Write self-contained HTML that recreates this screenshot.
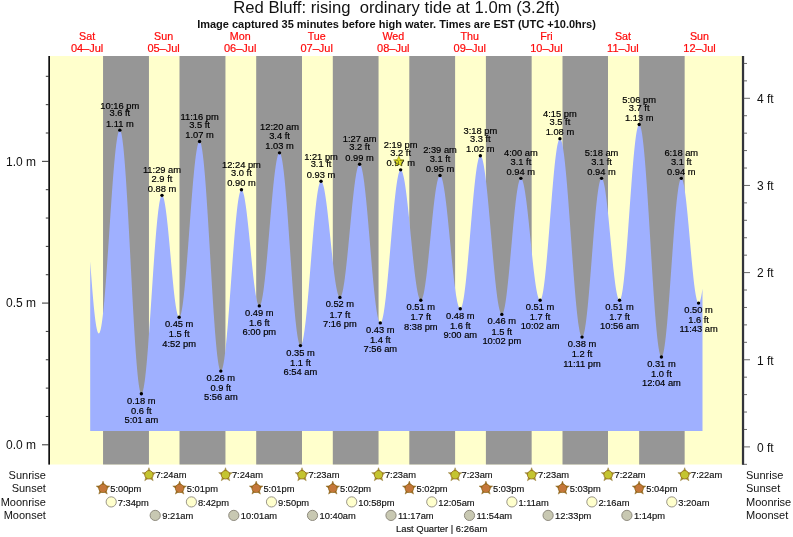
<!DOCTYPE html>
<html><head><meta charset="utf-8"><title>Red Bluff tide</title>
<style>
html,body{margin:0;padding:0;background:#fff;}
body{width:793px;height:537px;overflow:hidden;}
svg{display:block;font-family:"Liberation Sans",sans-serif;will-change:transform;}
.t{font-size:9.33px;fill:#000;text-anchor:middle;stroke:#000;stroke-width:0.18px;}
.s{font-size:9.33px;fill:#111;stroke:#111;stroke-width:0.15px;}
.d{font-size:11px;fill:#ff0a0a;text-anchor:middle;stroke:#ff0a0a;stroke-width:0.2px;}
.a{font-size:12px;fill:#111;}
.r{font-size:11px;fill:#111;}
</style></head><body>
<svg width="793" height="537" viewBox="0 0 793 537">
<rect x="0" y="0" width="793" height="537" fill="#fff"/>
<text x="396.5" y="13.2" font-size="16.67" fill="#111" text-anchor="middle" xml:space="preserve" style="white-space:pre">Red Bluff: rising  ordinary tide at 1.0m (3.2ft)</text>
<text x="396.5" y="27.8" font-size="11" font-weight="bold" fill="#111" text-anchor="middle">Image captured 35 minutes before high water. Times are EST (UTC +10.0hrs)</text>
<text class="d" x="87.1" y="39.9" style="font-size:10.7px">Sat</text>
<text class="d" x="87.1" y="51.6">04–Jul</text>
<text class="d" x="163.6" y="39.9" style="font-size:10.7px">Sun</text>
<text class="d" x="163.6" y="51.6">05–Jul</text>
<text class="d" x="240.2" y="39.9" style="font-size:10.7px">Mon</text>
<text class="d" x="240.2" y="51.6">06–Jul</text>
<text class="d" x="316.7" y="39.9" style="font-size:10.7px">Tue</text>
<text class="d" x="316.7" y="51.6">07–Jul</text>
<text class="d" x="393.3" y="39.9" style="font-size:10.7px">Wed</text>
<text class="d" x="393.3" y="51.6">08–Jul</text>
<text class="d" x="469.8" y="39.9" style="font-size:10.7px">Thu</text>
<text class="d" x="469.8" y="51.6">09–Jul</text>
<text class="d" x="546.4" y="39.9" style="font-size:10.7px">Fri</text>
<text class="d" x="546.4" y="51.6">10–Jul</text>
<text class="d" x="622.9" y="39.9" style="font-size:10.7px">Sat</text>
<text class="d" x="622.9" y="51.6">11–Jul</text>
<text class="d" x="699.5" y="39.9" style="font-size:10.7px">Sun</text>
<text class="d" x="699.5" y="51.6">12–Jul</text>
<rect x="50" y="56" width="692.5" height="408.5" fill="#ffffcc"/>
<rect x="103.05" y="56" width="45.90" height="408.5" fill="#969696"/>
<rect x="179.50" y="56" width="45.95" height="408.5" fill="#969696"/>
<rect x="256.20" y="56" width="45.80" height="408.5" fill="#969696"/>
<rect x="332.80" y="56" width="45.75" height="408.5" fill="#969696"/>
<rect x="409.30" y="56" width="45.80" height="408.5" fill="#969696"/>
<rect x="485.90" y="56" width="45.75" height="408.5" fill="#969696"/>
<rect x="562.50" y="56" width="45.50" height="408.5" fill="#969696"/>
<rect x="639.15" y="56" width="45.50" height="408.5" fill="#969696"/>
<path d="M90.20,431.00 L90.20,261.32 L90.70,268.33 L91.20,275.18 L91.70,281.82 L92.20,288.22 L92.70,294.32 L93.20,300.10 L93.70,305.52 L94.20,310.53 L94.70,315.11 L95.20,319.24 L95.70,322.87 L96.20,326.00 L96.70,328.60 L97.20,330.65 L97.70,332.14 L98.20,333.06 L98.70,333.40 L99.20,333.17 L99.70,332.38 L100.20,331.04 L100.70,329.14 L101.20,326.69 L101.70,323.73 L102.20,320.25 L102.70,316.28 L103.20,311.84 L103.70,306.96 L104.20,301.65 L104.70,295.97 L105.20,289.92 L105.70,283.55 L106.20,276.90 L106.70,269.99 L107.20,262.87 L107.70,255.58 L108.20,248.15 L108.70,240.64 L109.20,233.08 L109.70,225.51 L110.20,217.97 L110.70,210.51 L111.20,203.17 L111.70,195.99 L112.20,189.01 L112.70,182.26 L113.20,175.79 L113.70,169.63 L114.20,163.82 L114.70,158.38 L115.20,153.35 L115.70,148.76 L116.20,144.62 L116.70,140.98 L117.20,137.83 L117.70,135.21 L118.20,133.12 L118.70,131.59 L119.20,130.61 L119.70,130.19 L120.20,130.37 L120.70,131.25 L121.20,132.83 L121.70,135.09 L122.20,138.03 L122.70,141.63 L123.20,145.87 L123.70,150.72 L124.20,156.17 L124.70,162.18 L125.20,168.72 L125.70,175.76 L126.20,183.26 L126.70,191.17 L127.20,199.47 L127.70,208.09 L128.20,217.00 L128.70,226.15 L129.20,235.50 L129.70,244.98 L130.20,254.55 L130.70,264.16 L131.20,273.76 L131.70,283.30 L132.20,292.73 L132.70,301.99 L133.20,311.03 L133.70,319.82 L134.20,328.30 L134.70,336.43 L135.20,344.16 L135.70,351.45 L136.20,358.27 L136.70,364.57 L137.20,370.33 L137.70,375.51 L138.20,380.09 L138.70,384.04 L139.20,387.34 L139.70,389.97 L140.20,391.92 L140.70,393.18 L141.20,393.75 L141.70,393.64 L142.20,392.95 L142.70,391.69 L143.20,389.87 L143.70,387.50 L144.20,384.58 L144.70,381.15 L145.20,377.21 L145.70,372.80 L146.20,367.93 L146.70,362.64 L147.20,356.95 L147.70,350.90 L148.20,344.52 L148.70,337.85 L149.20,330.94 L149.70,323.81 L150.20,316.51 L150.70,309.09 L151.20,301.58 L151.70,294.03 L152.20,286.48 L152.70,278.98 L153.20,271.57 L153.70,264.30 L154.20,257.20 L154.70,250.31 L155.20,243.69 L155.70,237.36 L156.20,231.35 L156.70,225.72 L157.20,220.49 L157.70,215.68 L158.20,211.33 L158.70,207.47 L159.20,204.11 L159.70,201.27 L160.20,198.98 L160.70,197.23 L161.20,196.06 L161.70,195.45 L162.20,195.41 L162.70,195.90 L163.20,196.88 L163.70,198.37 L164.20,200.34 L164.70,202.77 L165.20,205.66 L165.70,208.96 L166.20,212.67 L166.70,216.74 L167.20,221.14 L167.70,225.83 L168.20,230.78 L168.70,235.94 L169.20,241.27 L169.70,246.73 L170.20,252.27 L170.70,257.84 L171.20,263.40 L171.70,268.90 L172.20,274.29 L172.70,279.54 L173.20,284.59 L173.70,289.40 L174.20,293.94 L174.70,298.16 L175.20,302.03 L175.70,305.52 L176.20,308.60 L176.70,311.24 L177.20,313.42 L177.70,315.12 L178.20,316.33 L178.70,317.04 L179.20,317.24 L179.70,316.93 L180.20,316.10 L180.70,314.75 L181.20,312.90 L181.70,310.56 L182.20,307.73 L182.70,304.44 L183.20,300.71 L183.70,296.55 L184.20,292.00 L184.70,287.07 L185.20,281.81 L185.70,276.23 L186.20,270.38 L186.70,264.28 L187.20,257.98 L187.70,251.51 L188.20,244.91 L188.70,238.21 L189.20,231.46 L189.70,224.71 L190.20,217.97 L190.70,211.31 L191.20,204.75 L191.70,198.34 L192.20,192.11 L192.70,186.11 L193.20,180.36 L193.70,174.90 L194.20,169.76 L194.70,164.97 L195.20,160.57 L195.70,156.57 L196.20,153.00 L196.70,149.89 L197.20,147.25 L197.70,145.09 L198.20,143.43 L198.70,142.28 L199.20,141.64 L199.70,141.53 L200.20,142.02 L200.70,143.13 L201.20,144.86 L201.70,147.19 L202.20,150.12 L202.70,153.63 L203.20,157.70 L203.70,162.31 L204.20,167.43 L204.70,173.04 L205.20,179.10 L205.70,185.58 L206.20,192.44 L206.70,199.66 L207.20,207.18 L207.70,214.97 L208.20,222.99 L208.70,231.19 L209.20,239.53 L209.70,247.95 L210.20,256.43 L210.70,264.90 L211.20,273.32 L211.70,281.66 L212.20,289.85 L212.70,297.86 L213.20,305.65 L213.70,313.16 L214.20,320.37 L214.70,327.22 L215.20,333.69 L215.70,339.74 L216.20,345.33 L216.70,350.44 L217.20,355.03 L217.70,359.08 L218.20,362.58 L218.70,365.49 L219.20,367.81 L219.70,369.52 L220.20,370.61 L220.70,371.08 L221.20,370.95 L221.70,370.30 L222.20,369.12 L222.70,367.43 L223.20,365.23 L223.70,362.54 L224.20,359.38 L224.70,355.76 L225.20,351.70 L225.70,347.23 L226.20,342.37 L226.70,337.15 L227.20,331.60 L227.70,325.75 L228.20,319.65 L228.70,313.31 L229.20,306.78 L229.70,300.10 L230.20,293.31 L230.70,286.44 L231.20,279.54 L231.70,272.64 L232.20,265.79 L232.70,259.02 L233.20,252.38 L233.70,245.89 L234.20,239.61 L234.70,233.57 L235.20,227.79 L235.70,222.32 L236.20,217.19 L236.70,212.42 L237.20,208.05 L237.70,204.10 L238.20,200.59 L238.70,197.54 L239.20,194.97 L239.70,192.90 L240.20,191.34 L240.70,190.29 L241.20,189.76 L241.70,189.75 L242.20,190.20 L242.70,191.09 L243.20,192.42 L243.70,194.18 L244.20,196.36 L244.70,198.93 L245.20,201.88 L245.70,205.18 L246.20,208.82 L246.70,212.75 L247.20,216.96 L247.70,221.40 L248.20,226.05 L248.70,230.86 L249.20,235.81 L249.70,240.85 L250.20,245.95 L250.70,251.05 L251.20,256.14 L251.70,261.16 L252.20,266.07 L252.70,270.84 L253.20,275.44 L253.70,279.82 L254.20,283.96 L254.70,287.81 L255.20,291.36 L255.70,294.57 L256.20,297.42 L256.70,299.88 L257.20,301.94 L257.70,303.59 L258.20,304.80 L258.70,305.57 L259.20,305.90 L259.70,305.77 L260.20,305.18 L260.70,304.13 L261.20,302.64 L261.70,300.69 L262.20,298.32 L262.70,295.53 L263.20,292.34 L263.70,288.77 L264.20,284.85 L264.70,280.58 L265.20,276.01 L265.70,271.15 L266.20,266.05 L266.70,260.72 L267.20,255.20 L267.70,249.52 L268.20,243.73 L268.70,237.85 L269.20,231.91 L269.70,225.96 L270.20,220.03 L270.70,214.16 L271.20,208.38 L271.70,202.73 L272.20,197.23 L272.70,191.94 L273.20,186.86 L273.70,182.05 L274.20,177.52 L274.70,173.30 L275.20,169.43 L275.70,165.91 L276.20,162.78 L276.70,160.05 L277.20,157.75 L277.70,155.87 L278.20,154.44 L278.70,153.46 L279.20,152.94 L279.70,152.88 L280.20,153.36 L280.70,154.37 L281.20,155.91 L281.70,157.98 L282.20,160.57 L282.70,163.65 L283.20,167.21 L283.70,171.23 L284.20,175.70 L284.70,180.57 L285.20,185.83 L285.70,191.45 L286.20,197.39 L286.70,203.62 L287.20,210.11 L287.70,216.82 L288.20,223.71 L288.70,230.75 L289.20,237.89 L289.70,245.09 L290.20,252.32 L290.70,259.53 L291.20,266.68 L291.70,273.73 L292.20,280.64 L292.70,287.38 L293.20,293.90 L293.70,300.18 L294.20,306.16 L294.70,311.83 L295.20,317.14 L295.70,322.07 L296.20,326.60 L296.70,330.68 L297.20,334.31 L297.70,337.46 L298.20,340.12 L298.70,342.26 L299.20,343.88 L299.70,344.97 L300.20,345.52 L300.70,345.54 L301.20,345.07 L301.70,344.12 L302.20,342.70 L302.70,340.82 L303.20,338.49 L303.70,335.72 L304.20,332.53 L304.70,328.94 L305.20,324.97 L305.70,320.63 L306.20,315.97 L306.70,310.99 L307.20,305.74 L307.70,300.25 L308.20,294.53 L308.70,288.64 L309.20,282.60 L309.70,276.45 L310.20,270.22 L310.70,263.95 L311.20,257.68 L311.70,251.44 L312.20,245.27 L312.70,239.21 L313.20,233.29 L313.70,227.54 L314.20,222.00 L314.70,216.71 L315.20,211.68 L315.70,206.96 L316.20,202.56 L316.70,198.52 L317.20,194.86 L317.70,191.60 L318.20,188.75 L318.70,186.34 L319.20,184.38 L319.70,182.88 L320.20,181.85 L320.70,181.30 L321.20,181.21 L321.70,181.55 L322.20,182.29 L322.70,183.42 L323.20,184.94 L323.70,186.83 L324.20,189.09 L324.70,191.70 L325.20,194.63 L325.70,197.88 L326.20,201.41 L326.70,205.20 L327.20,209.23 L327.70,213.47 L328.20,217.89 L328.70,222.45 L329.20,227.14 L329.70,231.90 L330.20,236.72 L330.70,241.55 L331.20,246.37 L331.70,251.14 L332.20,255.83 L332.70,260.41 L333.20,264.83 L333.70,269.09 L334.20,273.13 L334.70,276.94 L335.20,280.49 L335.70,283.76 L336.20,286.71 L336.70,289.34 L337.20,291.62 L337.70,293.54 L338.20,295.09 L338.70,296.25 L339.20,297.01 L339.70,297.37 L340.20,297.33 L340.70,296.87 L341.20,295.99 L341.70,294.69 L342.20,293.00 L342.70,290.90 L343.20,288.43 L343.70,285.59 L344.20,282.40 L344.70,278.88 L345.20,275.07 L345.70,270.97 L346.20,266.61 L346.70,262.03 L347.20,257.25 L347.70,252.30 L348.20,247.22 L348.70,242.03 L349.20,236.77 L349.70,231.47 L350.20,226.17 L350.70,220.90 L351.20,215.69 L351.70,210.57 L352.20,205.59 L352.70,200.76 L353.20,196.13 L353.70,191.71 L354.20,187.55 L354.70,183.65 L355.20,180.06 L355.70,176.78 L356.20,173.85 L356.70,171.28 L357.20,169.09 L357.70,167.29 L358.20,165.89 L358.70,164.91 L359.20,164.34 L359.70,164.19 L360.20,164.49 L360.70,165.24 L361.20,166.45 L361.70,168.10 L362.20,170.18 L362.70,172.69 L363.20,175.61 L363.70,178.91 L364.20,182.60 L364.70,186.63 L365.20,190.99 L365.70,195.65 L366.20,200.60 L366.70,205.78 L367.20,211.19 L367.70,216.78 L368.20,222.53 L368.70,228.40 L369.20,234.35 L369.70,240.36 L370.20,246.39 L370.70,252.40 L371.20,258.36 L371.70,264.23 L372.20,269.99 L372.70,275.59 L373.20,281.01 L373.70,286.21 L374.20,291.17 L374.70,295.85 L375.20,300.23 L375.70,304.28 L376.20,307.98 L376.70,311.31 L377.20,314.25 L377.70,316.79 L378.20,318.90 L378.70,320.57 L379.20,321.80 L379.70,322.58 L380.20,322.91 L380.70,322.77 L381.20,322.19 L381.70,321.15 L382.20,319.66 L382.70,317.75 L383.20,315.40 L383.70,312.65 L384.20,309.50 L384.70,305.98 L385.20,302.10 L385.70,297.89 L386.20,293.37 L386.70,288.57 L387.20,283.53 L387.70,278.26 L388.20,272.80 L388.70,267.19 L389.20,261.45 L389.70,255.62 L390.20,249.74 L390.70,243.84 L391.20,237.95 L391.70,232.11 L392.20,226.36 L392.70,220.72 L393.20,215.24 L393.70,209.95 L394.20,204.87 L394.70,200.04 L395.20,195.48 L395.70,191.23 L396.20,187.30 L396.70,183.73 L397.20,180.53 L397.70,177.72 L398.20,175.32 L398.70,173.34 L399.20,171.80 L399.70,170.70 L400.20,170.05 L400.70,169.85 L401.20,170.08 L401.70,170.70 L402.20,171.71 L402.70,173.11 L403.20,174.88 L403.70,177.02 L404.20,179.51 L404.70,182.34 L405.20,185.49 L405.70,188.94 L406.20,192.67 L406.70,196.66 L407.20,200.88 L407.70,205.31 L408.20,209.92 L408.70,214.68 L409.20,219.56 L409.70,224.54 L410.20,229.58 L410.70,234.66 L411.20,239.74 L411.70,244.79 L412.20,249.78 L412.70,254.68 L413.20,259.46 L413.70,264.10 L414.20,268.56 L414.70,272.81 L415.20,276.83 L415.70,280.60 L416.20,284.10 L416.70,287.29 L417.20,290.17 L417.70,292.72 L418.20,294.91 L418.70,296.74 L419.20,298.19 L419.70,299.26 L420.20,299.94 L420.70,300.23 L421.20,300.11 L421.70,299.58 L422.20,298.64 L422.70,297.28 L423.20,295.53 L423.70,293.40 L424.20,290.89 L424.70,288.03 L425.20,284.83 L425.70,281.32 L426.20,277.51 L426.70,273.44 L427.20,269.14 L427.70,264.62 L428.20,259.93 L428.70,255.08 L429.20,250.12 L429.70,245.08 L430.20,239.99 L430.70,234.89 L431.20,229.81 L431.70,224.78 L432.20,219.84 L432.70,215.02 L433.20,210.35 L433.70,205.87 L434.20,201.60 L434.70,197.58 L435.20,193.82 L435.70,190.36 L436.20,187.22 L436.70,184.42 L437.20,181.97 L437.70,179.90 L438.20,178.22 L438.70,176.93 L439.20,176.06 L439.70,175.60 L440.20,175.55 L440.70,175.91 L441.20,176.67 L441.70,177.82 L442.20,179.36 L442.70,181.27 L443.20,183.55 L443.70,186.18 L444.20,189.15 L444.70,192.44 L445.20,196.02 L445.70,199.89 L446.20,204.00 L446.70,208.35 L447.20,212.90 L447.70,217.62 L448.20,222.50 L448.70,227.49 L449.20,232.56 L449.70,237.70 L450.20,242.86 L450.70,248.02 L451.20,253.14 L451.70,258.20 L452.20,263.16 L452.70,268.00 L453.20,272.67 L453.70,277.17 L454.20,281.45 L454.70,285.50 L455.20,289.29 L455.70,292.79 L456.20,295.99 L456.70,298.86 L457.20,301.40 L457.70,303.58 L458.20,305.38 L458.70,306.81 L459.20,307.85 L459.70,308.50 L460.20,308.74 L460.70,308.56 L461.20,307.91 L461.70,306.80 L462.20,305.24 L462.70,303.23 L463.20,300.78 L463.70,297.92 L464.20,294.65 L464.70,291.01 L465.20,287.00 L465.70,282.66 L466.20,278.01 L466.70,273.08 L467.20,267.91 L467.70,262.51 L468.20,256.93 L468.70,251.20 L469.20,245.35 L469.70,239.42 L470.20,233.45 L470.70,227.47 L471.20,221.52 L471.70,215.63 L472.20,209.85 L472.70,204.20 L473.20,198.73 L473.70,193.46 L474.20,188.42 L474.70,183.65 L475.20,179.18 L475.70,175.03 L476.20,171.24 L476.70,167.81 L477.20,164.78 L477.70,162.16 L478.20,159.97 L478.70,158.22 L479.20,156.92 L479.70,156.08 L480.20,155.70 L480.70,155.78 L481.20,156.29 L481.70,157.22 L482.20,158.57 L482.70,160.32 L483.20,162.48 L483.70,165.02 L484.20,167.93 L484.70,171.21 L485.20,174.83 L485.70,178.76 L486.20,183.00 L486.70,187.52 L487.20,192.29 L487.70,197.29 L488.20,202.50 L488.70,207.87 L489.20,213.40 L489.70,219.03 L490.20,224.76 L490.70,230.53 L491.20,236.34 L491.70,242.13 L492.20,247.89 L492.70,253.58 L493.20,259.17 L493.70,264.63 L494.20,269.93 L494.70,275.05 L495.20,279.95 L495.70,284.61 L496.20,289.01 L496.70,293.12 L497.20,296.92 L497.70,300.38 L498.20,303.50 L498.70,306.25 L499.20,308.62 L499.70,310.60 L500.20,312.18 L500.70,313.34 L501.20,314.08 L501.70,314.40 L502.20,314.28 L502.70,313.71 L503.20,312.67 L503.70,311.19 L504.20,309.26 L504.70,306.91 L505.20,304.14 L505.70,300.98 L506.20,297.45 L506.70,293.57 L507.20,289.36 L507.70,284.87 L508.20,280.12 L508.70,275.13 L509.20,269.95 L509.70,264.61 L510.20,259.14 L510.70,253.59 L511.20,247.99 L511.70,242.38 L512.20,236.79 L512.70,231.27 L513.20,225.85 L513.70,220.58 L514.20,215.48 L514.70,210.58 L515.20,205.94 L515.70,201.57 L516.20,197.50 L516.70,193.76 L517.20,190.39 L517.70,187.40 L518.20,184.80 L518.70,182.63 L519.20,180.89 L519.70,179.60 L520.20,178.76 L520.70,178.38 L521.20,178.45 L521.70,178.93 L522.20,179.81 L522.70,181.09 L523.20,182.76 L523.70,184.80 L524.20,187.20 L524.70,189.95 L525.20,193.03 L525.70,196.42 L526.20,200.10 L526.70,204.03 L527.20,208.20 L527.70,212.58 L528.20,217.13 L528.70,221.84 L529.20,226.65 L529.70,231.56 L530.20,236.51 L530.70,241.48 L531.20,246.44 L531.70,251.35 L532.20,256.18 L532.70,260.90 L533.20,265.48 L533.70,269.88 L534.20,274.07 L534.70,278.04 L535.20,281.74 L535.70,285.17 L536.20,288.29 L536.70,291.08 L537.20,293.53 L537.70,295.61 L538.20,297.33 L538.70,298.65 L539.20,299.58 L539.70,300.11 L540.20,300.23 L540.70,299.88 L541.20,299.02 L541.70,297.67 L542.20,295.82 L542.70,293.49 L543.20,290.70 L543.70,287.47 L544.20,283.80 L544.70,279.74 L545.20,275.29 L545.70,270.50 L546.20,265.38 L546.70,259.98 L547.20,254.32 L547.70,248.44 L548.20,242.39 L548.70,236.18 L549.20,229.88 L549.70,223.51 L550.20,217.11 L550.70,210.73 L551.20,204.40 L551.70,198.16 L552.20,192.06 L552.70,186.14 L553.20,180.42 L553.70,174.94 L554.20,169.75 L554.70,164.86 L555.20,160.32 L555.70,156.15 L556.20,152.38 L556.70,149.03 L557.20,146.12 L557.70,143.67 L558.20,141.69 L558.70,140.20 L559.20,139.21 L559.70,138.73 L560.20,138.75 L560.70,139.27 L561.20,140.28 L561.70,141.79 L562.20,143.78 L562.70,146.25 L563.20,149.18 L563.70,152.56 L564.20,156.37 L564.70,160.59 L565.20,165.19 L565.70,170.17 L566.20,175.49 L566.70,181.12 L567.20,187.04 L567.70,193.21 L568.20,199.61 L568.70,206.20 L569.20,212.95 L569.70,219.83 L570.20,226.80 L570.70,233.82 L571.20,240.87 L571.70,247.90 L572.20,254.88 L572.70,261.77 L573.20,268.55 L573.70,275.17 L574.20,281.60 L574.70,287.81 L575.20,293.76 L575.70,299.44 L576.20,304.81 L576.70,309.84 L577.20,314.50 L577.70,318.78 L578.20,322.65 L578.70,326.10 L579.20,329.10 L579.70,331.63 L580.20,333.70 L580.70,335.28 L581.20,336.37 L581.70,336.97 L582.20,337.06 L582.70,336.65 L583.20,335.72 L583.70,334.29 L584.20,332.36 L584.70,329.95 L585.20,327.07 L585.70,323.74 L586.20,319.98 L586.70,315.82 L587.20,311.28 L587.70,306.40 L588.20,301.20 L588.70,295.72 L589.20,289.99 L589.70,284.05 L590.20,277.95 L590.70,271.71 L591.20,265.38 L591.70,259.00 L592.20,252.61 L592.70,246.26 L593.20,239.98 L593.70,233.82 L594.20,227.81 L594.70,221.99 L595.20,216.41 L595.70,211.09 L596.20,206.08 L596.70,201.40 L597.20,197.08 L597.70,193.16 L598.20,189.66 L598.70,186.60 L599.20,183.99 L599.70,181.87 L600.20,180.24 L600.70,179.11 L601.20,178.49 L601.70,178.38 L602.20,178.74 L602.70,179.57 L603.20,180.86 L603.70,182.59 L604.20,184.76 L604.70,187.34 L605.20,190.32 L605.70,193.67 L606.20,197.38 L606.70,201.40 L607.20,205.71 L607.70,210.28 L608.20,215.07 L608.70,220.04 L609.20,225.16 L609.70,230.39 L610.20,235.69 L610.70,241.02 L611.20,246.33 L611.70,251.59 L612.20,256.75 L612.70,261.78 L613.20,266.64 L613.70,271.29 L614.20,275.70 L614.70,279.83 L615.20,283.65 L615.70,287.13 L616.20,290.24 L616.70,292.97 L617.20,295.28 L617.70,297.17 L618.20,298.62 L618.70,299.61 L619.20,300.14 L619.70,300.21 L620.20,299.73 L620.70,298.69 L621.20,297.11 L621.70,294.98 L622.20,292.33 L622.70,289.17 L623.20,285.52 L623.70,281.40 L624.20,276.84 L624.70,271.87 L625.20,266.52 L625.70,260.83 L626.20,254.83 L626.70,248.56 L627.20,242.05 L627.70,235.36 L628.20,228.52 L628.70,221.58 L629.20,214.58 L629.70,207.56 L630.20,200.58 L630.70,193.67 L631.20,186.88 L631.70,180.25 L632.20,173.83 L632.70,167.65 L633.20,161.76 L633.70,156.19 L634.20,150.98 L634.70,146.16 L635.20,141.77 L635.70,137.82 L636.20,134.34 L636.70,131.37 L637.20,128.91 L637.70,126.98 L638.20,125.60 L638.70,124.77 L639.20,124.50 L639.70,124.80 L640.20,125.68 L640.70,127.13 L641.20,129.15 L641.70,131.73 L642.20,134.85 L642.70,138.51 L643.20,142.67 L643.70,147.32 L644.20,152.44 L644.70,157.99 L645.20,163.97 L645.70,170.32 L646.20,177.03 L646.70,184.05 L647.20,191.36 L647.70,198.92 L648.20,206.68 L648.70,214.61 L649.20,222.68 L649.70,230.83 L650.20,239.04 L650.70,247.25 L651.20,255.43 L651.70,263.53 L652.20,271.52 L652.70,279.36 L653.20,287.01 L653.70,294.42 L654.20,301.57 L654.70,308.41 L655.20,314.91 L655.70,321.04 L656.20,326.77 L656.70,332.08 L657.20,336.92 L657.70,341.29 L658.20,345.15 L658.70,348.49 L659.20,351.29 L659.70,353.54 L660.20,355.23 L660.70,356.34 L661.20,356.88 L661.70,356.84 L662.20,356.24 L662.70,355.09 L663.20,353.39 L663.70,351.16 L664.20,348.41 L664.70,345.15 L665.20,341.41 L665.70,337.21 L666.20,332.58 L666.70,327.54 L667.20,322.13 L667.70,316.37 L668.20,310.32 L668.70,303.99 L669.20,297.44 L669.70,290.71 L670.20,283.83 L670.70,276.85 L671.20,269.81 L671.70,262.76 L672.20,255.74 L672.70,248.79 L673.20,241.96 L673.70,235.29 L674.20,228.82 L674.70,222.60 L675.20,216.66 L675.70,211.03 L676.20,205.76 L676.70,200.87 L677.20,196.40 L677.70,192.38 L678.20,188.82 L678.70,185.76 L679.20,183.20 L679.70,181.18 L680.20,179.69 L680.70,178.75 L681.20,178.37 L681.70,178.53 L682.20,179.20 L682.70,180.38 L683.20,182.06 L683.70,184.23 L684.20,186.86 L684.70,189.94 L685.20,193.43 L685.70,197.32 L686.20,201.56 L686.70,206.13 L687.20,210.99 L687.70,216.09 L688.20,221.39 L688.70,226.85 L689.20,232.43 L689.70,238.08 L690.20,243.74 L690.70,249.39 L691.20,254.96 L691.70,260.41 L692.20,265.70 L692.70,270.79 L693.20,275.62 L693.70,280.17 L694.20,284.39 L694.70,288.25 L695.20,291.72 L695.70,294.77 L696.20,297.37 L696.70,299.50 L697.20,301.15 L697.70,302.29 L698.20,302.93 L698.70,303.06 L699.20,302.69 L699.70,301.83 L700.20,300.50 L700.70,298.70 L701.20,296.44 L701.70,293.75 L702.20,290.64 L702.50,288.59 L702.50,431.00 Z" fill="#9fb0ff"/>
<rect x="48.3" y="56" width="1.7" height="408.6" fill="#111"/>
<rect x="741.9" y="56" width="2.25" height="408.8" fill="#33343a"/>
<line x1="42" y1="444.80" x2="49" y2="444.80" stroke="#333" stroke-width="1"/>
<text class="a" x="6" y="449.1" >0.0 m</text>
<line x1="45.8" y1="416.46" x2="49" y2="416.46" stroke="#333" stroke-width="1"/>
<line x1="45.8" y1="388.11" x2="49" y2="388.11" stroke="#333" stroke-width="1"/>
<line x1="45.8" y1="359.76" x2="49" y2="359.76" stroke="#333" stroke-width="1"/>
<line x1="45.8" y1="331.42" x2="49" y2="331.42" stroke="#333" stroke-width="1"/>
<line x1="42" y1="303.08" x2="49" y2="303.08" stroke="#333" stroke-width="1"/>
<text class="a" x="6" y="307.4" >0.5 m</text>
<line x1="45.8" y1="274.73" x2="49" y2="274.73" stroke="#333" stroke-width="1"/>
<line x1="45.8" y1="246.39" x2="49" y2="246.39" stroke="#333" stroke-width="1"/>
<line x1="45.8" y1="218.04" x2="49" y2="218.04" stroke="#333" stroke-width="1"/>
<line x1="45.8" y1="189.70" x2="49" y2="189.70" stroke="#333" stroke-width="1"/>
<line x1="42" y1="161.35" x2="49" y2="161.35" stroke="#333" stroke-width="1"/>
<text class="a" x="6" y="165.7" >1.0 m</text>
<line x1="45.8" y1="133.00" x2="49" y2="133.00" stroke="#333" stroke-width="1"/>
<line x1="45.8" y1="104.66" x2="49" y2="104.66" stroke="#333" stroke-width="1"/>
<line x1="45.8" y1="76.31" x2="49" y2="76.31" stroke="#333" stroke-width="1"/>
<line x1="743" y1="464.33" x2="747" y2="464.33" stroke="#444" stroke-width="0.8"/>
<line x1="743" y1="446.90" x2="750" y2="446.90" stroke="#444" stroke-width="0.8"/>
<text class="a" x="756.9" y="451.6">0 ft</text>
<line x1="743" y1="429.47" x2="747" y2="429.47" stroke="#444" stroke-width="0.8"/>
<line x1="743" y1="412.04" x2="747" y2="412.04" stroke="#444" stroke-width="0.8"/>
<line x1="743" y1="394.61" x2="747" y2="394.61" stroke="#444" stroke-width="0.8"/>
<line x1="743" y1="377.18" x2="747" y2="377.18" stroke="#444" stroke-width="0.8"/>
<line x1="743" y1="359.75" x2="750" y2="359.75" stroke="#444" stroke-width="0.8"/>
<text class="a" x="756.9" y="364.5">1 ft</text>
<line x1="743" y1="342.32" x2="747" y2="342.32" stroke="#444" stroke-width="0.8"/>
<line x1="743" y1="324.89" x2="747" y2="324.89" stroke="#444" stroke-width="0.8"/>
<line x1="743" y1="307.46" x2="747" y2="307.46" stroke="#444" stroke-width="0.8"/>
<line x1="743" y1="290.03" x2="747" y2="290.03" stroke="#444" stroke-width="0.8"/>
<line x1="743" y1="272.60" x2="750" y2="272.60" stroke="#444" stroke-width="0.8"/>
<text class="a" x="756.9" y="277.3">2 ft</text>
<line x1="743" y1="255.17" x2="747" y2="255.17" stroke="#444" stroke-width="0.8"/>
<line x1="743" y1="237.74" x2="747" y2="237.74" stroke="#444" stroke-width="0.8"/>
<line x1="743" y1="220.31" x2="747" y2="220.31" stroke="#444" stroke-width="0.8"/>
<line x1="743" y1="202.88" x2="747" y2="202.88" stroke="#444" stroke-width="0.8"/>
<line x1="743" y1="185.45" x2="750" y2="185.45" stroke="#444" stroke-width="0.8"/>
<text class="a" x="756.9" y="190.2">3 ft</text>
<line x1="743" y1="168.02" x2="747" y2="168.02" stroke="#444" stroke-width="0.8"/>
<line x1="743" y1="150.59" x2="747" y2="150.59" stroke="#444" stroke-width="0.8"/>
<line x1="743" y1="133.16" x2="747" y2="133.16" stroke="#444" stroke-width="0.8"/>
<line x1="743" y1="115.73" x2="747" y2="115.73" stroke="#444" stroke-width="0.8"/>
<line x1="743" y1="98.30" x2="750" y2="98.30" stroke="#444" stroke-width="0.8"/>
<text class="a" x="756.9" y="103.0">4 ft</text>
<line x1="743" y1="80.87" x2="747" y2="80.87" stroke="#444" stroke-width="0.8"/>
<line x1="743" y1="63.44" x2="747" y2="63.44" stroke="#444" stroke-width="0.8"/>
<polygon points="398.80,156.20 400.27,159.58 403.94,159.93 401.18,162.37 401.97,165.97 398.80,164.10 395.63,165.97 396.42,162.37 393.66,159.93 397.33,159.58" fill="#e4e420" fill-opacity="1" stroke="#6a6a10" stroke-width="0.5" stroke-opacity="0.7"/>
<circle cx="119.82" cy="130.17" r="1.7" fill="#000"/>
<text class="t" x="119.82" y="108.77">10:16 pm</text>
<text class="t" x="119.82" y="116.37">3.6 ft</text>
<text class="t" x="119.82" y="126.57">1.11 m</text>
<circle cx="141.35" cy="393.78" r="1.7" fill="#000"/>
<text class="t" x="141.35" y="403.78">0.18 m</text>
<text class="t" x="141.35" y="413.98">0.6 ft</text>
<text class="t" x="141.35" y="422.78">5:01 am</text>
<circle cx="161.98" cy="195.36" r="1.7" fill="#000"/>
<text class="t" x="161.98" y="172.76">11:29 am</text>
<text class="t" x="161.98" y="181.56">2.9 ft</text>
<text class="t" x="161.98" y="191.76">0.88 m</text>
<circle cx="179.15" cy="317.25" r="1.7" fill="#000"/>
<text class="t" x="179.15" y="327.25">0.45 m</text>
<text class="t" x="179.15" y="337.45">1.5 ft</text>
<text class="t" x="179.15" y="346.75">4:52 pm</text>
<circle cx="199.56" cy="141.51" r="1.7" fill="#000"/>
<text class="t" x="199.56" y="120.11">11:16 pm</text>
<text class="t" x="199.56" y="127.71">3.5 ft</text>
<text class="t" x="199.56" y="137.91">1.07 m</text>
<circle cx="220.82" cy="371.10" r="1.7" fill="#000"/>
<text class="t" x="220.82" y="381.10">0.26 m</text>
<text class="t" x="220.82" y="391.30">0.9 ft</text>
<text class="t" x="220.82" y="400.10">5:56 am</text>
<circle cx="241.45" cy="189.70" r="1.7" fill="#000"/>
<text class="t" x="241.45" y="168.30">12:24 pm</text>
<text class="t" x="241.45" y="175.90">3.0 ft</text>
<text class="t" x="241.45" y="186.10">0.90 m</text>
<circle cx="259.31" cy="305.91" r="1.7" fill="#000"/>
<text class="t" x="259.31" y="315.91">0.49 m</text>
<text class="t" x="259.31" y="326.11">1.6 ft</text>
<text class="t" x="259.31" y="335.41">6:00 pm</text>
<circle cx="279.51" cy="152.85" r="1.7" fill="#000"/>
<text class="t" x="279.51" y="130.25">12:20 am</text>
<text class="t" x="279.51" y="139.05">3.4 ft</text>
<text class="t" x="279.51" y="149.25">1.03 m</text>
<circle cx="300.46" cy="345.59" r="1.7" fill="#000"/>
<text class="t" x="300.46" y="355.59">0.35 m</text>
<text class="t" x="300.46" y="365.79">1.1 ft</text>
<text class="t" x="300.46" y="374.59">6:54 am</text>
<circle cx="321.03" cy="181.19" r="1.7" fill="#000"/>
<text class="t" x="321.03" y="159.79">1:21 pm</text>
<text class="t" x="321.03" y="167.39">3.1 ft</text>
<text class="t" x="321.03" y="177.59">0.93 m</text>
<circle cx="339.90" cy="297.41" r="1.7" fill="#000"/>
<text class="t" x="339.90" y="307.41">0.52 m</text>
<text class="t" x="339.90" y="317.61">1.7 ft</text>
<text class="t" x="339.90" y="326.91">7:16 pm</text>
<circle cx="359.62" cy="164.18" r="1.7" fill="#000"/>
<text class="t" x="359.62" y="141.58">1:27 am</text>
<text class="t" x="359.62" y="150.38">3.2 ft</text>
<text class="t" x="359.62" y="160.58">0.99 m</text>
<circle cx="380.30" cy="322.92" r="1.7" fill="#000"/>
<text class="t" x="380.30" y="332.92">0.43 m</text>
<text class="t" x="380.30" y="343.12">1.4 ft</text>
<text class="t" x="380.30" y="351.92">7:56 am</text>
<circle cx="400.66" cy="169.85" r="1.7" fill="#000"/>
<text class="t" x="400.66" y="148.45">2:19 pm</text>
<text class="t" x="400.66" y="156.05">3.2 ft</text>
<text class="t" x="400.66" y="166.25">0.97 m</text>
<circle cx="420.81" cy="300.24" r="1.7" fill="#000"/>
<text class="t" x="420.81" y="310.24">0.51 m</text>
<text class="t" x="420.81" y="320.44">1.7 ft</text>
<text class="t" x="420.81" y="329.74">8:38 pm</text>
<circle cx="440.00" cy="175.52" r="1.7" fill="#000"/>
<text class="t" x="440.00" y="152.92">2:39 am</text>
<text class="t" x="440.00" y="161.72">3.1 ft</text>
<text class="t" x="440.00" y="171.92">0.95 m</text>
<circle cx="460.26" cy="308.74" r="1.7" fill="#000"/>
<text class="t" x="460.26" y="318.74">0.48 m</text>
<text class="t" x="460.26" y="328.94">1.6 ft</text>
<text class="t" x="460.26" y="337.74">9:00 am</text>
<circle cx="480.35" cy="155.68" r="1.7" fill="#000"/>
<text class="t" x="480.35" y="134.28">3:18 pm</text>
<text class="t" x="480.35" y="141.88">3.3 ft</text>
<text class="t" x="480.35" y="152.08">1.02 m</text>
<circle cx="501.83" cy="314.41" r="1.7" fill="#000"/>
<text class="t" x="501.83" y="324.41">0.46 m</text>
<text class="t" x="501.83" y="334.61">1.5 ft</text>
<text class="t" x="501.83" y="343.91">10:02 pm</text>
<circle cx="520.86" cy="178.36" r="1.7" fill="#000"/>
<text class="t" x="520.86" y="155.76">4:00 am</text>
<text class="t" x="520.86" y="164.56">3.1 ft</text>
<text class="t" x="520.86" y="174.76">0.94 m</text>
<circle cx="540.10" cy="300.24" r="1.7" fill="#000"/>
<text class="t" x="540.10" y="310.24">0.51 m</text>
<text class="t" x="540.10" y="320.44">1.7 ft</text>
<text class="t" x="540.10" y="329.24">10:02 am</text>
<circle cx="559.93" cy="138.67" r="1.7" fill="#000"/>
<text class="t" x="559.93" y="117.27">4:15 pm</text>
<text class="t" x="559.93" y="124.87">3.5 ft</text>
<text class="t" x="559.93" y="135.07">1.08 m</text>
<circle cx="582.05" cy="337.09" r="1.7" fill="#000"/>
<text class="t" x="582.05" y="347.09">0.38 m</text>
<text class="t" x="582.05" y="357.29">1.2 ft</text>
<text class="t" x="582.05" y="366.59">11:11 pm</text>
<circle cx="601.55" cy="178.36" r="1.7" fill="#000"/>
<text class="t" x="601.55" y="155.76">5:18 am</text>
<text class="t" x="601.55" y="164.56">3.1 ft</text>
<text class="t" x="601.55" y="174.76">0.94 m</text>
<circle cx="619.52" cy="300.24" r="1.7" fill="#000"/>
<text class="t" x="619.52" y="310.24">0.51 m</text>
<text class="t" x="619.52" y="320.44">1.7 ft</text>
<text class="t" x="619.52" y="329.24">10:56 am</text>
<circle cx="639.19" cy="124.50" r="1.7" fill="#000"/>
<text class="t" x="639.19" y="103.10">5:06 pm</text>
<text class="t" x="639.19" y="110.70">3.7 ft</text>
<text class="t" x="639.19" y="120.90">1.13 m</text>
<circle cx="661.41" cy="356.93" r="1.7" fill="#000"/>
<text class="t" x="661.41" y="366.93">0.31 m</text>
<text class="t" x="661.41" y="377.13">1.0 ft</text>
<text class="t" x="661.41" y="385.93">12:04 am</text>
<circle cx="681.29" cy="178.36" r="1.7" fill="#000"/>
<text class="t" x="681.29" y="155.76">6:18 am</text>
<text class="t" x="681.29" y="164.56">3.1 ft</text>
<text class="t" x="681.29" y="174.76">0.94 m</text>
<circle cx="698.57" cy="303.08" r="1.7" fill="#000"/>
<text class="t" x="698.57" y="313.08">0.50 m</text>
<text class="t" x="698.57" y="323.28">1.6 ft</text>
<text class="t" x="698.57" y="332.08">11:43 am</text>
<polygon points="398.80,156.20 400.27,159.58 403.94,159.93 401.18,162.37 401.97,165.97 398.80,164.10 395.63,165.97 396.42,162.37 393.66,159.93 397.33,159.58" fill="#e4e420" fill-opacity="0.55" stroke="#6a6a10" stroke-width="0.5" stroke-opacity="0.5"/>
<text class="r" x="45.9" y="478.6" text-anchor="end">Sunrise</text>
<text class="r" x="746.0" y="478.6">Sunrise</text>
<text class="r" x="45.9" y="492.4" text-anchor="end">Sunset</text>
<text class="r" x="746.0" y="492.4">Sunset</text>
<text class="r" x="45.9" y="505.8" text-anchor="end">Moonrise</text>
<text class="r" x="746.0" y="505.8">Moonrise</text>
<text class="r" x="45.9" y="519.4" text-anchor="end">Moonset</text>
<text class="r" x="746.0" y="519.4">Moonset</text>
<polygon points="148.95,467.70 150.72,472.47 155.80,472.68 151.81,475.83 153.18,480.72 148.95,477.90 144.72,480.72 146.10,475.83 142.11,472.68 147.19,472.47" fill="#a99c3a" stroke="#8a6a20" stroke-width="0.5" stroke-opacity="0.8"/>
<circle cx="148.95" cy="474.8" r="4.25" fill="#c4c430" stroke="#8a5a14" stroke-width="0.7"/>
<text class="s" x="155.4" y="478">7:24am</text>
<polygon points="225.50,467.70 227.27,472.47 232.35,472.68 228.36,475.83 229.73,480.72 225.50,477.90 221.27,480.72 222.65,475.83 218.66,472.68 223.74,472.47" fill="#a99c3a" stroke="#8a6a20" stroke-width="0.5" stroke-opacity="0.8"/>
<circle cx="225.50" cy="474.8" r="4.25" fill="#c4c430" stroke="#8a5a14" stroke-width="0.7"/>
<text class="s" x="231.9" y="478">7:24am</text>
<polygon points="302.00,467.70 303.76,472.47 308.85,472.68 304.85,475.83 306.23,480.72 302.00,477.90 297.77,480.72 299.15,475.83 295.15,472.68 300.24,472.47" fill="#a99c3a" stroke="#8a6a20" stroke-width="0.5" stroke-opacity="0.8"/>
<circle cx="302.00" cy="474.8" r="4.25" fill="#c4c430" stroke="#8a5a14" stroke-width="0.7"/>
<text class="s" x="308.4" y="478">7:23am</text>
<polygon points="378.55,467.70 380.31,472.47 385.40,472.68 381.40,475.83 382.78,480.72 378.55,477.90 374.32,480.72 375.70,475.83 371.70,472.68 376.79,472.47" fill="#a99c3a" stroke="#8a6a20" stroke-width="0.5" stroke-opacity="0.8"/>
<circle cx="378.55" cy="474.8" r="4.25" fill="#c4c430" stroke="#8a5a14" stroke-width="0.7"/>
<text class="s" x="384.9" y="478">7:23am</text>
<polygon points="455.10,467.70 456.86,472.47 461.95,472.68 457.95,475.83 459.33,480.72 455.10,477.90 450.87,480.72 452.25,475.83 448.25,472.68 453.34,472.47" fill="#a99c3a" stroke="#8a6a20" stroke-width="0.5" stroke-opacity="0.8"/>
<circle cx="455.10" cy="474.8" r="4.25" fill="#c4c430" stroke="#8a5a14" stroke-width="0.7"/>
<text class="s" x="461.5" y="478">7:23am</text>
<polygon points="531.65,467.70 533.41,472.47 538.50,472.68 534.50,475.83 535.88,480.72 531.65,477.90 527.42,480.72 528.80,475.83 524.80,472.68 529.89,472.47" fill="#a99c3a" stroke="#8a6a20" stroke-width="0.5" stroke-opacity="0.8"/>
<circle cx="531.65" cy="474.8" r="4.25" fill="#c4c430" stroke="#8a5a14" stroke-width="0.7"/>
<text class="s" x="538.0" y="478">7:23am</text>
<polygon points="608.15,467.70 609.91,472.47 614.99,472.68 611.00,475.83 612.38,480.72 608.15,477.90 603.91,480.72 605.29,475.83 601.30,472.68 606.38,472.47" fill="#a99c3a" stroke="#8a6a20" stroke-width="0.5" stroke-opacity="0.8"/>
<circle cx="608.15" cy="474.8" r="4.25" fill="#c4c430" stroke="#8a5a14" stroke-width="0.7"/>
<text class="s" x="614.5" y="478">7:22am</text>
<polygon points="684.70,467.70 686.46,472.47 691.54,472.68 687.55,475.83 688.93,480.72 684.70,477.90 680.46,480.72 681.84,475.83 677.85,472.68 682.93,472.47" fill="#a99c3a" stroke="#8a6a20" stroke-width="0.5" stroke-opacity="0.8"/>
<circle cx="684.70" cy="474.8" r="4.25" fill="#c4c430" stroke="#8a5a14" stroke-width="0.7"/>
<text class="s" x="691.1" y="478">7:22am</text>
<polygon points="103.02,481.10 104.79,485.87 109.87,486.08 105.88,489.23 107.25,494.12 103.02,491.30 98.79,494.12 100.17,489.23 96.18,486.08 101.26,485.87" fill="#9a6c28" stroke="#86600c" stroke-width="0.5" stroke-opacity="0.8"/>
<circle cx="103.02" cy="488.35" r="4.25" fill="#c4773a" stroke="#86600c" stroke-width="0.7"/>
<text class="s" x="110.2" y="492.3">5:00pm</text>
<polygon points="179.63,481.10 181.39,485.87 186.47,486.08 182.48,489.23 183.86,494.12 179.63,491.30 175.39,494.12 176.77,489.23 172.78,486.08 177.86,485.87" fill="#9a6c28" stroke="#86600c" stroke-width="0.5" stroke-opacity="0.8"/>
<circle cx="179.63" cy="488.35" r="4.25" fill="#c4773a" stroke="#86600c" stroke-width="0.7"/>
<text class="s" x="186.8" y="492.3">5:01pm</text>
<polygon points="256.18,481.10 257.94,485.87 263.02,486.08 259.03,489.23 260.41,494.12 256.18,491.30 251.94,494.12 253.32,489.23 249.33,486.08 254.41,485.87" fill="#9a6c28" stroke="#86600c" stroke-width="0.5" stroke-opacity="0.8"/>
<circle cx="256.18" cy="488.35" r="4.25" fill="#c4773a" stroke="#86600c" stroke-width="0.7"/>
<text class="s" x="263.4" y="492.3">5:01pm</text>
<polygon points="332.78,481.10 334.54,485.87 339.63,486.08 335.63,489.23 337.01,494.12 332.78,491.30 328.55,494.12 329.93,489.23 325.93,486.08 331.02,485.87" fill="#9a6c28" stroke="#86600c" stroke-width="0.5" stroke-opacity="0.8"/>
<circle cx="332.78" cy="488.35" r="4.25" fill="#c4773a" stroke="#86600c" stroke-width="0.7"/>
<text class="s" x="340.0" y="492.3">5:02pm</text>
<polygon points="409.33,481.10 411.09,485.87 416.18,486.08 412.18,489.23 413.56,494.12 409.33,491.30 405.10,494.12 406.48,489.23 402.48,486.08 407.57,485.87" fill="#9a6c28" stroke="#86600c" stroke-width="0.5" stroke-opacity="0.8"/>
<circle cx="409.33" cy="488.35" r="4.25" fill="#c4773a" stroke="#86600c" stroke-width="0.7"/>
<text class="s" x="416.5" y="492.3">5:02pm</text>
<polygon points="485.93,481.10 487.70,485.87 492.78,486.08 488.79,489.23 490.16,494.12 485.93,491.30 481.70,494.12 483.08,489.23 479.08,486.08 484.17,485.87" fill="#9a6c28" stroke="#86600c" stroke-width="0.5" stroke-opacity="0.8"/>
<circle cx="485.93" cy="488.35" r="4.25" fill="#c4773a" stroke="#86600c" stroke-width="0.7"/>
<text class="s" x="493.1" y="492.3">5:03pm</text>
<polygon points="562.48,481.10 564.25,485.87 569.33,486.08 565.34,489.23 566.71,494.12 562.48,491.30 558.25,494.12 559.63,489.23 555.63,486.08 560.72,485.87" fill="#9a6c28" stroke="#86600c" stroke-width="0.5" stroke-opacity="0.8"/>
<circle cx="562.48" cy="488.35" r="4.25" fill="#c4773a" stroke="#86600c" stroke-width="0.7"/>
<text class="s" x="569.7" y="492.3">5:03pm</text>
<polygon points="639.09,481.10 640.85,485.87 645.93,486.08 641.94,489.23 643.32,494.12 639.09,491.30 634.85,494.12 636.23,489.23 632.24,486.08 637.32,485.87" fill="#9a6c28" stroke="#86600c" stroke-width="0.5" stroke-opacity="0.8"/>
<circle cx="639.09" cy="488.35" r="4.25" fill="#c4773a" stroke="#86600c" stroke-width="0.7"/>
<text class="s" x="646.3" y="492.3">5:04pm</text>
<circle cx="111.2" cy="501.9" r="5.1" fill="#ffffcc" stroke="#9a968a" stroke-width="1"/>
<text class="s" x="117.7" y="505.9">7:34pm</text>
<circle cx="191.4" cy="501.9" r="5.1" fill="#ffffcc" stroke="#9a968a" stroke-width="1"/>
<text class="s" x="197.9" y="505.9">8:42pm</text>
<circle cx="271.5" cy="501.9" r="5.1" fill="#ffffcc" stroke="#9a968a" stroke-width="1"/>
<text class="s" x="278.0" y="505.9">9:50pm</text>
<circle cx="351.7" cy="501.9" r="5.1" fill="#ffffcc" stroke="#9a968a" stroke-width="1"/>
<text class="s" x="358.2" y="505.9">10:58pm</text>
<circle cx="431.8" cy="501.9" r="5.1" fill="#ffffcc" stroke="#9a968a" stroke-width="1"/>
<text class="s" x="438.3" y="505.9">12:05am</text>
<circle cx="511.9" cy="501.9" r="5.1" fill="#ffffcc" stroke="#9a968a" stroke-width="1"/>
<text class="s" x="518.4" y="505.9">1:11am</text>
<circle cx="591.9" cy="501.9" r="5.1" fill="#ffffcc" stroke="#9a968a" stroke-width="1"/>
<text class="s" x="598.4" y="505.9">2:16am</text>
<circle cx="671.8" cy="501.9" r="5.1" fill="#ffffcc" stroke="#9a968a" stroke-width="1"/>
<text class="s" x="678.3" y="505.9">3:20am</text>
<circle cx="155.2" cy="515.4" r="5.1" fill="#c8c8b2" stroke="#8e8a7e" stroke-width="1"/>
<text class="s" x="162.2" y="519.2">9:21am</text>
<circle cx="233.8" cy="515.4" r="5.1" fill="#c8c8b2" stroke="#8e8a7e" stroke-width="1"/>
<text class="s" x="240.8" y="519.2">10:01am</text>
<circle cx="312.5" cy="515.4" r="5.1" fill="#c8c8b2" stroke="#8e8a7e" stroke-width="1"/>
<text class="s" x="319.5" y="519.2">10:40am</text>
<circle cx="391.0" cy="515.4" r="5.1" fill="#c8c8b2" stroke="#8e8a7e" stroke-width="1"/>
<text class="s" x="398.0" y="519.2">11:17am</text>
<circle cx="469.5" cy="515.4" r="5.1" fill="#c8c8b2" stroke="#8e8a7e" stroke-width="1"/>
<text class="s" x="476.5" y="519.2">11:54am</text>
<circle cx="548.1" cy="515.4" r="5.1" fill="#c8c8b2" stroke="#8e8a7e" stroke-width="1"/>
<text class="s" x="555.1" y="519.2">12:33pm</text>
<circle cx="626.9" cy="515.4" r="5.1" fill="#c8c8b2" stroke="#8e8a7e" stroke-width="1"/>
<text class="s" x="633.9" y="519.2">1:14pm</text>
<text class="s" x="441.6" y="531.6" style="font-size:9.42px" text-anchor="middle">Last Quarter | 6:26am</text>
</svg></body></html>
